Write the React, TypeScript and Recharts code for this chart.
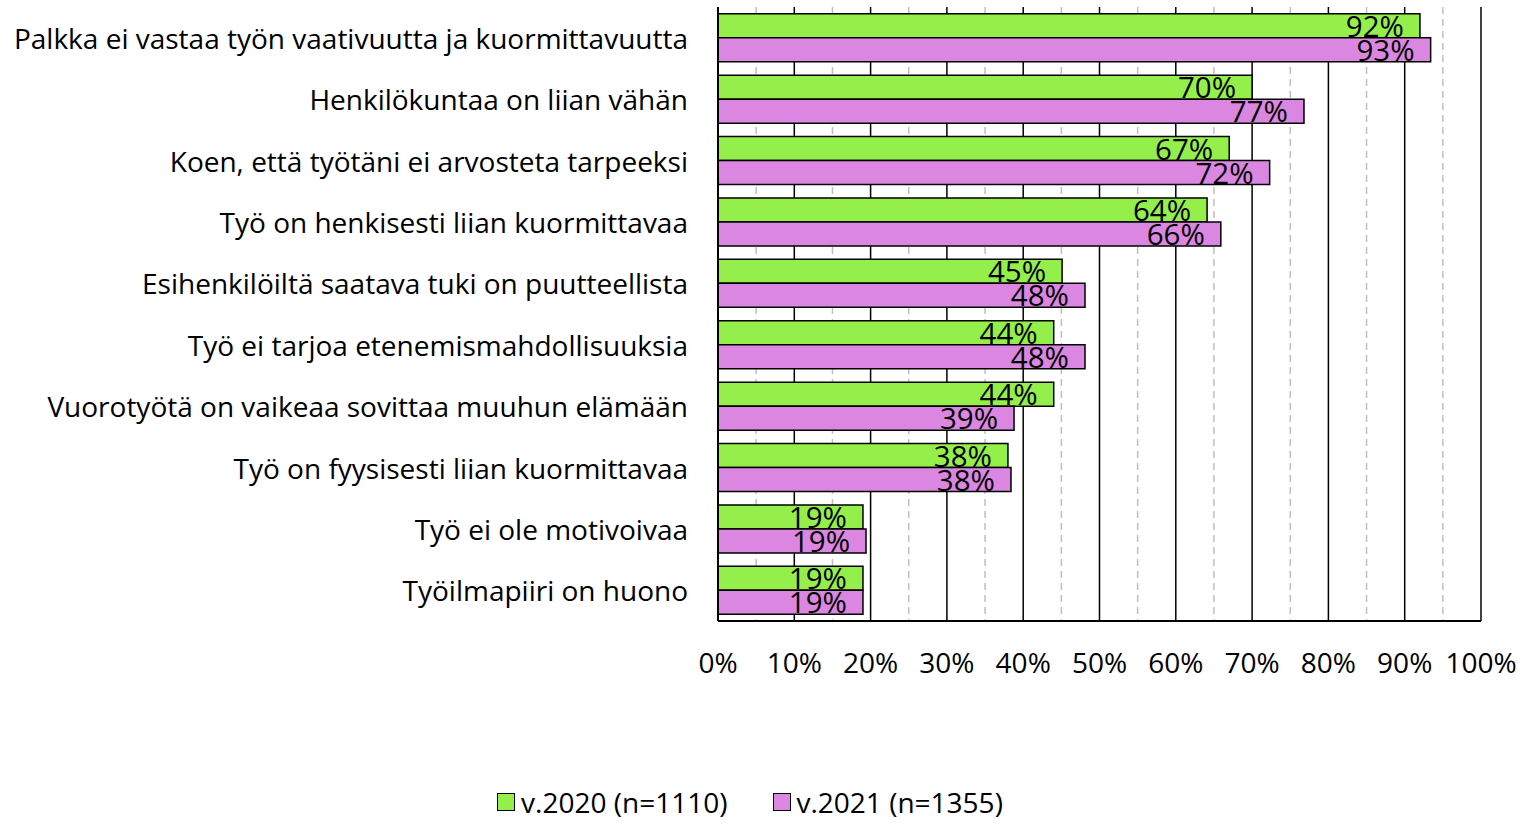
import React from "react";
import {
  BarChart,
  Bar,
  XAxis,
  YAxis,
  CartesianGrid,
  LabelList,
  Legend,
} from "recharts";

const categories = [
  "Palkka ei vastaa työn vaativuutta ja kuormittavuutta",
  "Henkilökuntaa on liian vähän",
  "Koen, että työtäni ei arvosteta tarpeeksi",
  "Työ on henkisesti liian kuormittavaa",
  "Esihenkilöiltä saatava tuki on puutteellista",
  "Työ ei tarjoa etenemismahdollisuuksia",
  "Vuorotyötä on vaikeaa sovittaa muuhun elämään",
  "Työ on fyysisesti liian kuormittavaa",
  "Työ ei ole motivoivaa",
  "Työilmapiiri on huono",
];
const values2020 = [92.0, 70.0, 67.0, 64.1, 45.1, 44.0, 44.0, 38.0, 19.0, 19.0];
const values2021 = [93.4, 76.8, 72.3, 65.9, 48.1, 48.1, 38.8, 38.4, 19.4, 19.0];
const majorTicks = [0, 10, 20, 30, 40, 50, 60, 70, 80, 90, 100];
const minorTicks = [5, 15, 25, 35, 45, 55, 65, 75, 85, 95];
const seriesNames = ["v.2020 (n=1110)", "v.2021 (n=1355)"];
const seriesColors = ["#94EF4A", "#DB86E1"];

const data = categories.map((c, i) => ({
  name: c,
  v2020: values2020[i],
  v2021: values2021[i],
}));

const FONT = "'Open Sans', sans-serif";

const CategoryTick = (props: any) => {
  const { x, y, payload } = props;
  return (
    <text
      x={x}
      y={y}
      textAnchor="end"
      dominantBaseline="central"
      fontSize={28}
      fontFamily={FONT}
      fill="#000"
    >
      {payload.value}
    </text>
  );
};

const ValueLabel = (props: any) => {
  const { x, y, width, height, value } = props;
  return (
    <text
      x={x + width - 16}
      y={y + height - 1}
      textAnchor="end"
      fontSize={29.5}
      fontFamily={FONT}
      fill="#000"
    >
      {Math.round(value)}%
    </text>
  );
};

const LegendContent = () => (
  <div
    style={{
      display: "flex",
      justifyContent: "center",
      alignItems: "center",
      gap: 45,
      fontFamily: FONT,
      fontSize: 28,
      color: "#000",
    }}
  >
    {seriesNames.map((n, i) => (
      <div key={n} style={{ display: "flex", alignItems: "center" }}>
        <span
          style={{
            display: "inline-block",
            width: 16,
            height: 16,
            background: seriesColors[i],
            border: "1.5px solid #000",
            marginRight: 6,
          }}
        />
        <span>{n}</span>
      </div>
    ))}
  </div>
);

const minorGen = (args: any) => {
  const { xAxis, offset } = args;
  if (xAxis && typeof xAxis.scale === "function") {
    return minorTicks.map((v) => xAxis.scale(v));
  }
  return minorTicks.map((v) => offset.left + (offset.width * v) / 100);
};

export default function App() {
  return (
    <div style={{ position: "absolute", left: 0, top: 0, background: "#fff" }}>
      <BarChart
        width={1531}
        height={823}
        data={data}
        layout="vertical"
        margin={{ top: 7, right: 50, bottom: 104, left: 0 }}
        barCategoryGap="11%"
        barGap={0}
      >
        <CartesianGrid
          horizontal={false}
          stroke="#BFBFBF"
          strokeWidth={1.5}
          strokeDasharray="7 5"
          verticalCoordinatesGenerator={minorGen}
        />
        <CartesianGrid
          horizontal={false}
          stroke="#000"
          strokeWidth={1.5}
        />
        <XAxis
          type="number"
          domain={[0, 100]}
          ticks={majorTicks}
          tickFormatter={(v) => `${v}%`}
          tickLine={false}
          tickSize={0}
          axisLine={{ stroke: "#000", strokeWidth: 2 }}
          tickMargin={32}
          height={60}
          tick={{ fontSize: 28, fontFamily: FONT, fill: "#000" }}
          interval={0}
        />
        <XAxis
          xAxisId="top"
          orientation="top"
          type="number"
          domain={[0, 100]}
          tick={false}
          tickLine={false}
          height={0}
          axisLine={{ stroke: "#000", strokeWidth: 2 }}
        />
        <YAxis
          type="category"
          dataKey="name"
          width={718}
          tickLine={false}
          tickSize={0}
          tickMargin={30}
          axisLine={{ stroke: "#000", strokeWidth: 2 }}
          tick={<CategoryTick />}
          interval={0}
        />
        <Legend
          content={<LegendContent />}
          verticalAlign="bottom"
          wrapperStyle={{ bottom: 2, left: 0, width: 1500 }}
        />
        <Bar
          dataKey="v2020"
          name={seriesNames[0]}
          fill={seriesColors[0]}
          stroke="#000"
          strokeWidth={1.5}
          isAnimationActive={false}
        >
          <LabelList dataKey="v2020" content={<ValueLabel />} />
        </Bar>
        <Bar
          dataKey="v2021"
          name={seriesNames[1]}
          fill={seriesColors[1]}
          stroke="#000"
          strokeWidth={1.5}
          isAnimationActive={false}
        >
          <LabelList dataKey="v2021" content={<ValueLabel />} />
        </Bar>
      </BarChart>
    </div>
  );
}
